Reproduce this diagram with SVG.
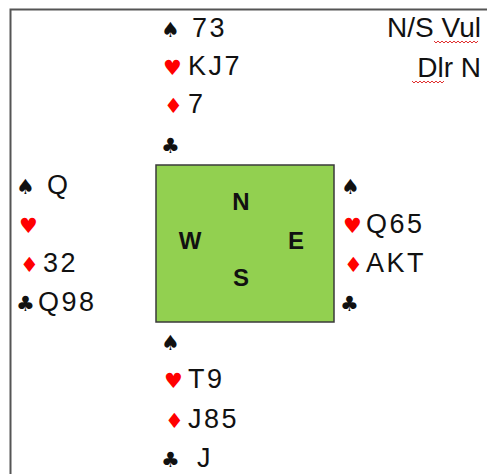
<svg xmlns="http://www.w3.org/2000/svg" width="487" height="474" viewBox="0 0 487 474">
<style>
.c{font-family:"Liberation Sans",Arial,sans-serif;font-size:27px;letter-spacing:2.5px;fill:#111}
.s{font-family:"DejaVu Sans",sans-serif;font-size:21px}
.b{fill:#111}.r{fill:#ff0000}
.i{font-family:"Liberation Sans",Arial,sans-serif;font-size:28px;fill:#111}
.d{font-family:"Liberation Sans",Arial,sans-serif;font-size:24px;font-weight:bold;fill:#111;text-anchor:middle}
.sq{fill:none;stroke:#e03030;stroke-width:1}
</style>
<g id="frame">
<path d="M10.5 474 V9.5 H487" fill="none" stroke="#555" stroke-width="2"/>
</g>
<g id="info">
<text class="i" x="481" y="37" text-anchor="end">N/S Vul</text>
<text class="i" x="481" y="77" text-anchor="end">Dlr N</text>
<path class="sq" d="M434 41 l2 2 l2 -2 l2 2 l2 -2 l2 2 l2 -2 l2 2 l2 -2 l2 2 l2 -2 l2 2 l2 -2 l2 2 l2 -2 l2 2 l2 -2 l2 2 l2 -2 l2 2 l2 -2 l2 2 l2 -2"/>
<path class="sq" d="M412 81 l2 2 l2 -2 l2 2 l2 -2 l2 2 l2 -2 l2 2 l2 -2 l2 2 l2 -2 l2 2 l2 -2 l2 2 l2 -2 l2 2 l2 -2"/>
</g>
<g id="table">
<rect x="156" y="165" width="178" height="157" fill="#92d050" stroke="#3a3a3a" stroke-width="1.5"/>
<text class="d" x="241" y="210">N</text>
<text class="d" x="190" y="249">W</text>
<text class="d" x="296" y="249">E</text>
<text class="d" x="241" y="286">S</text>
</g>
<g id="north">
<text class="s b" x="161" y="37">♠</text><text class="c" x="192" y="37">73</text>
<text class="s r" x="163" y="75">♥</text><text class="c" x="188" y="75">KJ7</text>
<text class="s r" x="164" y="113">♦</text><text class="c" x="188" y="113">7</text>
<text class="s b" x="161" y="153">♣</text>
</g>
<g id="west">
<text class="s b" x="16" y="194">♠</text><text class="c" x="47" y="194">Q</text>
<text class="s r" x="19" y="233">♥</text>
<text class="s r" x="20" y="272">♦</text><text class="c" x="43" y="272">32</text>
<text class="s b" x="16" y="311">♣</text><text class="c" x="38" y="311">Q98</text>
</g>
<g id="east">
<text class="s b" x="341" y="194">♠</text>
<text class="s r" x="343" y="233">♥</text><text class="c" x="366" y="233">Q65</text>
<text class="s r" x="344" y="272">♦</text><text class="c" x="366" y="272">AKT</text>
<text class="s b" x="340" y="311">♣</text>
</g>
<g id="south">
<text class="s b" x="161" y="350">♠</text>
<text class="s r" x="164" y="388">♥</text><text class="c" x="188" y="388">T9</text>
<text class="s r" x="165" y="428">♦</text><text class="c" x="188" y="428">J85</text>
<text class="s b" x="161" y="467">♣</text><text class="c" x="197" y="467">J</text>
</g>
</svg>
